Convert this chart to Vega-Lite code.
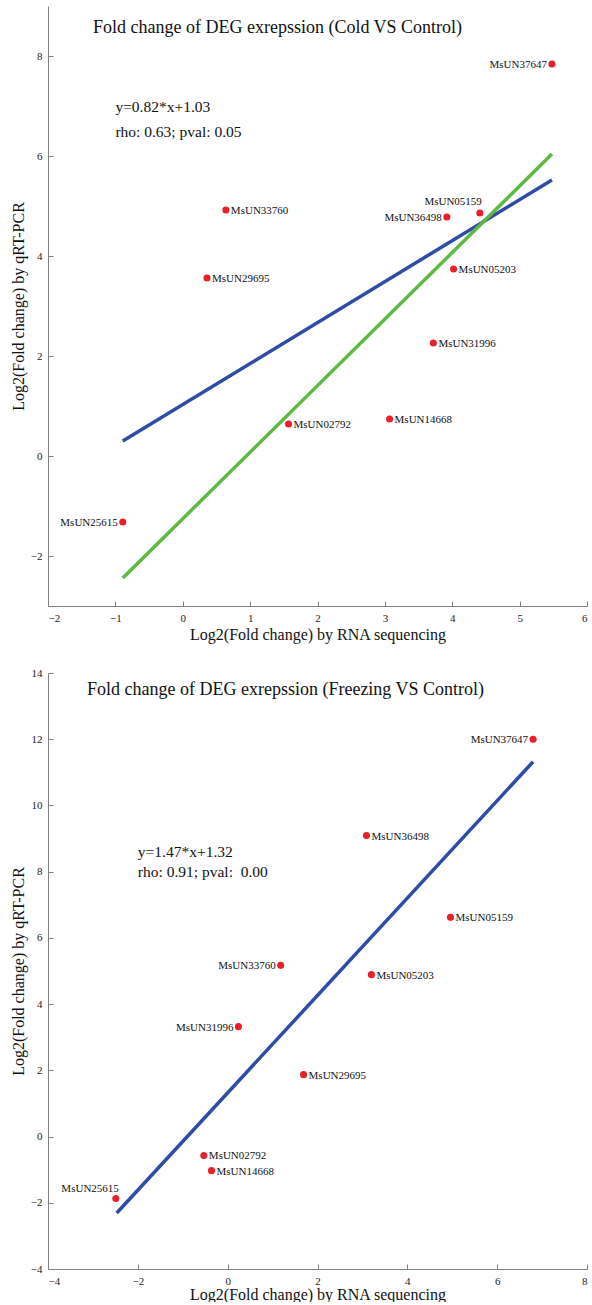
{
  "$schema": "https://vega.github.io/schema/vega-lite/v6.json",
  "padding": {"left": 10, "top": 6, "right": 0, "bottom": 0},
  "spacing": 25,
  "config": {
    "font": "Liberation Serif",
    "view": {"stroke": null},
    "axis": {
      "grid": false,
      "domainColor": "#808080",
      "tickColor": "#808080",
      "tickSize": -5,
      "labelPadding": 11,
      "labelFont": "Liberation Serif",
      "labelFontSize": 11,
      "labelColor": "#222222",
      "titleFont": "Liberation Serif",
      "titleFontSize": 16,
      "titleFontWeight": "normal",
      "titleColor": "#111111"
    },
    "title": {"font": "Liberation Serif", "fontSize": 18, "fontWeight": "normal", "color": "#111111"}
  },
  "datasets": {
    "cold": [
      {"gene": "MsUN37647", "rnaseq": 5.48, "qpcr": 7.84},
      {"gene": "MsUN33760", "rnaseq": 0.64, "qpcr": 4.92},
      {"gene": "MsUN29695", "rnaseq": 0.36, "qpcr": 3.56},
      {"gene": "MsUN05159", "rnaseq": 4.41, "qpcr": 4.86},
      {"gene": "MsUN36498", "rnaseq": 3.92, "qpcr": 4.78},
      {"gene": "MsUN05203", "rnaseq": 4.02, "qpcr": 3.74},
      {"gene": "MsUN31996", "rnaseq": 3.72, "qpcr": 2.26},
      {"gene": "MsUN02792", "rnaseq": 1.57, "qpcr": 0.64},
      {"gene": "MsUN14668", "rnaseq": 3.07, "qpcr": 0.74},
      {"gene": "MsUN25615", "rnaseq": -0.89, "qpcr": -1.32}
    ],
    "coldFit": [
      {"fit": "linear", "rnaseq": -0.89, "qpcr": 0.30},
      {"fit": "linear", "rnaseq": 5.48, "qpcr": 5.52},
      {"fit": "identity", "rnaseq": -0.89, "qpcr": -2.44},
      {"fit": "identity", "rnaseq": 5.48, "qpcr": 6.04}
    ],
    "coldNote": [
      {"text": "y=0.82*x+1.03", "rnaseq": -1.0, "qpcr": 6.98},
      {"text": "rho: 0.63; pval: 0.05", "rnaseq": -1.0, "qpcr": 6.48}
    ],
    "freeze": [
      {"gene": "MsUN37647", "rnaseq": 6.8, "qpcr": 12.0},
      {"gene": "MsUN36498", "rnaseq": 3.09, "qpcr": 9.09},
      {"gene": "MsUN05159", "rnaseq": 4.96, "qpcr": 6.62},
      {"gene": "MsUN05203", "rnaseq": 3.2, "qpcr": 4.89},
      {"gene": "MsUN33760", "rnaseq": 1.18, "qpcr": 5.17},
      {"gene": "MsUN31996", "rnaseq": 0.24, "qpcr": 3.32},
      {"gene": "MsUN29695", "rnaseq": 1.69, "qpcr": 1.87},
      {"gene": "MsUN02792", "rnaseq": -0.53, "qpcr": -0.57},
      {"gene": "MsUN14668", "rnaseq": -0.36, "qpcr": -1.03},
      {"gene": "MsUN25615", "rnaseq": -2.49, "qpcr": -1.87}
    ],
    "freezeFit": [
      {"fit": "linear", "rnaseq": -2.47, "qpcr": -2.31},
      {"fit": "linear", "rnaseq": 6.8, "qpcr": 11.32}
    ],
    "freezeNote": [
      {"text": "y=1.47*x+1.32", "rnaseq": -2.0, "qpcr": 8.58},
      {"text": "rho: 0.91; pval:\u00a0 0.00", "rnaseq": -2.0, "qpcr": 7.98}
    ]
  },
  "vconcat": [
    {
      "width": 539,
      "height": 600,
      "title": {"text": "Fold change of DEG exrepssion (Cold VS Control)", "anchor": "middle", "offset": 0, "dy": 31, "dx": -40},
      "layer": [
        {
          "data": {"name": "coldFit"},
          "mark": {"type": "line", "strokeWidth": 3.5, "strokeCap": "butt"},
          "encoding": {
            "x": {"field": "rnaseq", "type": "quantitative", "scale": {"domain": [-2, 6], "nice": false, "zero": false},
              "axis": {"title": "Log2(Fold change) by RNA sequencing", "values": [-2, -1, 0, 1, 2, 3, 4, 5, 6], "format": "d", "titlePadding": 3}},
            "y": {"field": "qpcr", "type": "quantitative", "scale": {"domain": [-3, 9], "nice": false, "zero": false},
              "axis": {"title": "Log2(Fold change) by qRT-PCR", "values": [-2, 0, 2, 4, 6, 8], "format": "d", "titlePadding": 4}},
            "detail": {"field": "fit"},
            "color": {"field": "fit", "type": "nominal", "scale": {"domain": ["linear", "identity"], "range": ["#2E4CA6", "#5DB942"]}, "legend": null}
          }
        },
        {
          "data": {"name": "cold"},
          "mark": {"type": "circle", "size": 50, "color": "#E8202A", "opacity": 1},
          "encoding": {
            "x": {"field": "rnaseq", "type": "quantitative"},
            "y": {"field": "qpcr", "type": "quantitative"}
          }
        },
        {
          "data": {"name": "cold"},
          "transform": [{"filter": {"field": "gene", "oneOf": ["MsUN33760", "MsUN29695", "MsUN05203", "MsUN31996", "MsUN02792", "MsUN14668"]}}],
          "mark": {"type": "text", "align": "left", "baseline": "middle", "dx": 5, "dy": 1, "fontSize": 11, "color": "#111111"},
          "encoding": {
            "x": {"field": "rnaseq", "type": "quantitative"},
            "y": {"field": "qpcr", "type": "quantitative"},
            "text": {"field": "gene"}
          }
        },
        {
          "data": {"name": "cold"},
          "transform": [{"filter": {"field": "gene", "oneOf": ["MsUN37647", "MsUN36498", "MsUN25615"]}}],
          "mark": {"type": "text", "align": "right", "baseline": "middle", "dx": -5, "dy": 1, "fontSize": 11, "color": "#111111"},
          "encoding": {
            "x": {"field": "rnaseq", "type": "quantitative"},
            "y": {"field": "qpcr", "type": "quantitative"},
            "text": {"field": "gene"}
          }
        },
        {
          "data": {"name": "cold"},
          "transform": [{"filter": {"field": "gene", "oneOf": ["MsUN05159"]}}],
          "mark": {"type": "text", "align": "right", "baseline": "middle", "dx": 2, "dy": -11, "fontSize": 11, "color": "#111111"},
          "encoding": {
            "x": {"field": "rnaseq", "type": "quantitative"},
            "y": {"field": "qpcr", "type": "quantitative"},
            "text": {"field": "gene"}
          }
        },
        {
          "data": {"name": "coldNote"},
          "mark": {"type": "text", "align": "left", "baseline": "middle", "fontSize": 15.5, "color": "#111111"},
          "encoding": {
            "x": {"field": "rnaseq", "type": "quantitative"},
            "y": {"field": "qpcr", "type": "quantitative"},
            "text": {"field": "text"}
          }
        }
      ]
    },
    {
      "width": 539,
      "height": 596,
      "title": {"text": "Fold change of DEG exrepssion (Freezing VS Control)", "anchor": "middle", "offset": 0, "dy": 32, "dx": -32},
      "layer": [
        {
          "data": {"name": "freezeFit"},
          "mark": {"type": "line", "strokeWidth": 3.5, "strokeCap": "butt", "color": "#2E4CA6"},
          "encoding": {
            "x": {"field": "rnaseq", "type": "quantitative", "scale": {"domain": [-4, 8], "nice": false, "zero": false},
              "axis": {"title": "Log2(Fold change) by RNA sequencing", "values": [-4, -2, 0, 2, 4, 6, 8], "format": "d", "titlePadding": 0}},
            "y": {"field": "qpcr", "type": "quantitative", "scale": {"domain": [-4, 14], "nice": false, "zero": false},
              "axis": {"title": "Log2(Fold change) by qRT-PCR", "values": [-4, -2, 0, 2, 4, 6, 8, 10, 12, 14], "format": "d", "titlePadding": 4}}
          }
        },
        {
          "data": {"name": "freeze"},
          "mark": {"type": "circle", "size": 50, "color": "#E8202A", "opacity": 1},
          "encoding": {
            "x": {"field": "rnaseq", "type": "quantitative"},
            "y": {"field": "qpcr", "type": "quantitative"}
          }
        },
        {
          "data": {"name": "freeze"},
          "transform": [{"filter": {"field": "gene", "oneOf": ["MsUN36498", "MsUN05159", "MsUN05203", "MsUN29695", "MsUN02792", "MsUN14668"]}}],
          "mark": {"type": "text", "align": "left", "baseline": "middle", "dx": 5, "dy": 1, "fontSize": 11, "color": "#111111"},
          "encoding": {
            "x": {"field": "rnaseq", "type": "quantitative"},
            "y": {"field": "qpcr", "type": "quantitative"},
            "text": {"field": "gene"}
          }
        },
        {
          "data": {"name": "freeze"},
          "transform": [{"filter": {"field": "gene", "oneOf": ["MsUN37647", "MsUN33760", "MsUN31996"]}}],
          "mark": {"type": "text", "align": "right", "baseline": "middle", "dx": -5, "dy": 1, "fontSize": 11, "color": "#111111"},
          "encoding": {
            "x": {"field": "rnaseq", "type": "quantitative"},
            "y": {"field": "qpcr", "type": "quantitative"},
            "text": {"field": "gene"}
          }
        },
        {
          "data": {"name": "freeze"},
          "transform": [{"filter": {"field": "gene", "oneOf": ["MsUN25615"]}}],
          "mark": {"type": "text", "align": "right", "baseline": "middle", "dx": 3, "dy": -9, "fontSize": 11, "color": "#111111"},
          "encoding": {
            "x": {"field": "rnaseq", "type": "quantitative"},
            "y": {"field": "qpcr", "type": "quantitative"},
            "text": {"field": "gene"}
          }
        },
        {
          "data": {"name": "freezeNote"},
          "mark": {"type": "text", "align": "left", "baseline": "middle", "fontSize": 15.5, "color": "#111111"},
          "encoding": {
            "x": {"field": "rnaseq", "type": "quantitative"},
            "y": {"field": "qpcr", "type": "quantitative"},
            "text": {"field": "text"}
          }
        }
      ]
    }
  ]
}
